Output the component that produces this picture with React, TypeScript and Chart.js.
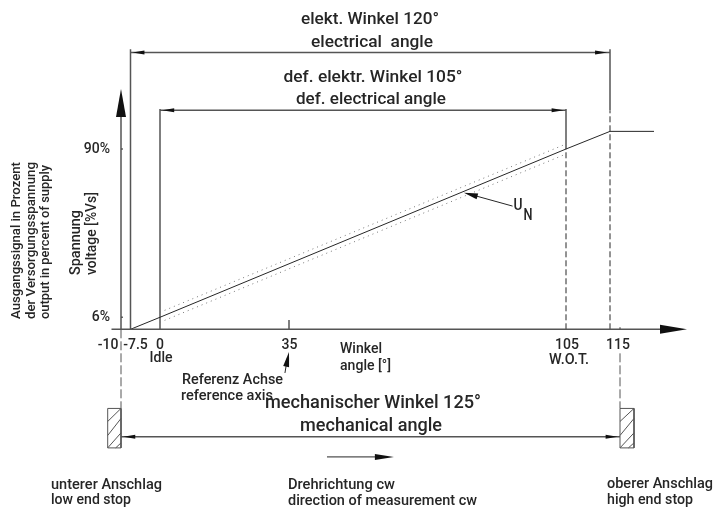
import React, { useEffect, useRef } from "react";
import { Chart, LinearScale, registerables } from "chart.js";

// Curve: output in % of supply against angle in degrees
const curveAngle = [-7.5, 0, 105, 112.5, 123.5];
const curveOutput = [0, 6, 90, 98.8, 98.8];
const toleranceAngle = [0, 105];
const upperTolerance = [8.5, 92.5];
const lowerTolerance = [3.5, 87.5];

// Axis ticks
const xTicks = [-10, -7.5, 0, 35, 105, 115];
const yTicks = [6, 90];

// The drawing is not to scale: angle -> pixel anchors
const xAnchors: number[][] = [[-10, 121], [-7.5, 130.5], [0, 160], [35, 289], [105, 566], [112.5, 610], [115, 620]];
const yAnchors: number[][] = [[0, 329.3], [90, 149]];
const labelShifts: Record<string, Record<number, number[]>> = {
  x: { [-10]: [-13, 0], [-7.5]: [5, 0], 0: [0, 0], 35: [0.5, 0], 105: [1, 0], 115: [-2, 0] },
  y: { 6: [-11, 0], 90: [-11, 0] },
};

class AnchoredScale extends LinearScale {
  static id = "anchored";
  static defaults = LinearScale.defaults;
  getPixelForValue(value: number) {
    const a = this.axis === "x" ? xAnchors : yAnchors;
    let i = 0;
    while (i < a.length - 2 && value > a[i + 1][0]) i++;
    const [v0, p0] = a[i];
    const [v1, p1] = a[i + 1];
    return p0 + ((value - v0) * (p1 - p0)) / (v1 - v0);
  }
  _computeLabelItems(area: any) {
    const items = (LinearScale.prototype as any)._computeLabelItems.call(this, area);
    items.forEach((item: any, i: number) => {
      const s = labelShifts[this.axis][this.ticks[i].value] || [0, 0];
      const t = item.options.translation;
      item.options.translation = [t[0] + s[0], t[1] + s[1]];
    });
    return items;
  }
}

Chart.register(...registerables, AnchoredScale as any);

const INK = "#262626";
const solid = { borderColor: INK, borderWidth: 1 };
const thick = { borderColor: "#555", borderWidth: 1.5 };
const dashed = { borderColor: INK, borderWidth: 1, borderDash: [6, 3] };
const longDash = { borderColor: "#555", borderWidth: 1, borderDash: [9, 3] };
const dotted = { borderColor: "#777", borderWidth: 1, borderDash: [1, 4] };

const line = (xs: number[], ys: number[], style: object) => ({
  data: xs.map((x, i) => ({ x, y: ys[i] })),
  showLine: true,
  pointRadius: 0,
  clip: false,
  fill: false,
  tension: 0,
  ...style,
});

const electricalY = 138.2;
const definedY = 109.3;
const mechanicalY = -53.6;
const stopTop = -39.5;
const stopBottom = -59.2;
const stopLeftOuter = -13.5;
const stopRightOuter = 118.5;
const hatch = [
  [-13.5, -46, -10, -39.5],
  [-13.5, -53, -10, -44.5],
  [-13.5, -59.2, -10, -51.7],
  [-11.4, -59.2, -10, -56.7],
];

const datasets = [
  line([-12.5, 126], [0, 0], thick),
  line([-10, -10], [0, 106], thick),
  line(curveAngle, curveOutput, solid),
  line(toleranceAngle, upperTolerance, dotted),
  line(toleranceAngle, lowerTolerance, dotted),
  // extension lines
  line([-7.5, -7.5], [0, 139.8], thick),
  line([0, 0], [0, 110], thick),
  line([105, 105], [90, 110], thick),
  line([105, 105], [0, 90], dashed),
  line([112.5, 112.5], [109.3, 139.8], thick),
  line([112.5, 112.5], [0, 109.3], dashed),
  line([-10, -10], [0, stopTop], longDash),
  line([115, 115], [-12, stopTop], longDash),
  // dimension lines
  line([-7.5, 112.5], [electricalY, electricalY], thick),
  line([0, 105], [definedY, definedY], thick),
  line([-10, 115], [mechanicalY, mechanicalY], thick),
  // tick marks
  line([35, 35], [0, 4.6], thick),
  line([-10, -9.5], [6, 6], thick),
  line([-10, -9.5], [90, 90], thick),
  line([115, 115], [0, 1], solid),
  // direction of measurement, U_N leader, reference axis leader
  line([44.6, 58], [-63.7, -63.7], solid),
  line([91.5, 80], [61.5, 67.8], solid),
  line([33.9, 34.6], [-21.8, -14], solid),
  // end stops
  line([stopLeftOuter, -10, -10, stopLeftOuter, stopLeftOuter], [stopTop, stopTop, stopBottom, stopBottom, stopTop], { borderColor: "#555", borderWidth: 1 }),
  line([115, stopRightOuter, stopRightOuter, 115, 115], [stopTop, stopTop, stopBottom, stopBottom, stopTop], { borderColor: "#555", borderWidth: 1 }),
  ...hatch.map((h) => line([h[0], h[2]], [h[1], h[3]], { borderColor: "#555", borderWidth: 1 })),
  ...hatch.map((h) => line([h[0] + 128.5, h[2] + 128.5], [h[1], h[3]], { borderColor: "#555", borderWidth: 1 })),
];

// Arrowheads: tip and a point on the shaft, in data units; then length and half-width
const arrows: number[][] = [
  [-10, 119.9, -10, 0, 28, 5],
  [131.75, 0, 0, 0, 27, 4.5],
  [-7, electricalY, 50, electricalY, 12, 2],
  [112, electricalY, 50, electricalY, 12, 2],
  [0.6, definedY, 50, definedY, 12, 2],
  [104.4, definedY, 50, definedY, 12, 2],
  [-9.4, mechanicalY, 50, mechanicalY, 12, 2],
  [114.4, mechanicalY, 50, mechanicalY, 12, 2],
  [61.5, -63.7, 44.6, -63.7, 19, 3],
  [79.2, 68.2, 91.5, 61.5, 14, 3],
  [35, -11.3, 33.9, -21.8, 15, 3],
];

// text, x, y, align, font size, target width, rotated
type Note = [string, number, number, CanvasTextAlign, number, number, boolean?];
const notes: Note[] = [
  ["elekt. Winkel 120°", 370, 20, "center", 17, 138],
  ["electrical  angle", 372, 43, "center", 17, 122],
  ["def. elektr. Winkel 105°", 373, 78, "center", 17, 179],
  ["def. electrical angle", 371, 100, "center", 17, 150],
  ["Idle", 161, 358, "center", 14, 23],
  ["W.O.T.", 569, 360, "center", 14, 40],
  ["Winkel", 340, 349, "left", 14, 42],
  ["angle [°]", 340, 366, "left", 14, 51],
  ["Referenz Achse", 182, 380, "left", 14, 101],
  ["reference axis", 181, 396, "left", 14, 92],
  ["mechanischer Winkel 125°", 373, 403, "center", 19, 216],
  ["mechanical angle", 371, 426, "center", 19, 142],
  ["unterer Anschlag", 51, 485, "left", 14, 111],
  ["low end stop", 51, 500, "left", 14, 80],
  ["Drehrichtung cw", 288, 485, "left", 14, 107],
  ["direction of measurement cw", 288, 501, "left", 14, 189],
  ["oberer Anschlag", 607, 484, "left", 14, 106],
  ["high end stop", 607, 500, "left", 14, 86],
  ["U", 518, 206, "center", 16, 9],
  ["N", 528, 216, "center", 16, 9],
  ["Ausgangssignal in Prozent", 17, 319, "left", 13.5, 157, true],
  ["der Versorgungsspannung", 32, 319, "left", 13.5, 157, true],
  ["output in percent of supply", 46, 319, "left", 13.5, 154, true],
  ["Spannung", 76, 275, "left", 14, 65, true],
  ["voltage [%Vs]", 92, 275, "left", 14, 83, true],
];

const drawingPlugin = {
  id: "drawing",
  afterDatasetsDraw(chart: any) {
    const { ctx, scales } = chart;
    ctx.save();
    ctx.fillStyle = "#111";
    for (const [tx, ty, sx, sy, len, half] of arrows) {
      const px = scales.x.getPixelForValue(tx);
      const py = scales.y.getPixelForValue(ty);
      const qx = scales.x.getPixelForValue(sx);
      const qy = scales.y.getPixelForValue(sy);
      const d = Math.hypot(qx - px, qy - py) || 1;
      const ux = (qx - px) / d;
      const uy = (qy - py) / d;
      ctx.beginPath();
      ctx.moveTo(px, py);
      ctx.lineTo(px + ux * len - uy * half, py + uy * len + ux * half);
      ctx.lineTo(px + ux * len + uy * half, py + uy * len - ux * half);
      ctx.closePath();
      ctx.fill();
    }
    ctx.fillStyle = INK;
    ctx.textBaseline = "middle";
    for (const [text, x, y, align, size, width, rotated] of notes) {
      ctx.save();
      ctx.font = `500 ${size}px Roboto`;
      ctx.textAlign = align;
      ctx.translate(x, y);
      if (rotated) ctx.rotate(-Math.PI / 2);
      ctx.scale(width / ctx.measureText(text).width, 1);
      ctx.fillText(text, 0, 0);
      ctx.restore();
    }
    ctx.restore();
  },
};

export default function App() {
  const ref = useRef<HTMLCanvasElement>(null);
  useEffect(() => {
    const chart = new Chart(ref.current!, {
      type: "scatter",
      data: { datasets: datasets as any },
      plugins: [drawingPlugin],
      options: {
        animation: false,
        responsive: false,
        events: [],
        layout: { padding: 0 },
        plugins: { legend: { display: false }, tooltip: { enabled: false } },
        scales: {
          x: {
            type: "anchored" as any,
            position: { y: 0 } as any,
            min: -40,
            max: 140,
            afterBuildTicks: (axis: any) => {
              axis.ticks = xTicks.map((value) => ({ value }));
            },
            ticks: {
              autoSkip: false,
              maxRotation: 0,
              minRotation: 0,
              padding: 0,
              color: INK,
              font: { family: "Roboto", size: 14, weight: "500" },
              callback: (v: any) => String(v),
            },
            grid: { display: false },
            border: { display: false },
          },
          y: {
            type: "anchored" as any,
            position: { x: -10 } as any,
            min: -90,
            max: 160,
            afterBuildTicks: (axis: any) => {
              axis.ticks = yTicks.map((value) => ({ value }));
            },
            ticks: {
              autoSkip: false,
              color: INK,
              font: { family: "Roboto", size: 14, weight: "500" },
              callback: (v: any) => `${v}%`,
            },
            grid: { display: false },
            border: { display: false },
          },
        },
      } as any,
    });
    return () => chart.destroy();
  }, []);
  return (
    <div style={{ position: "absolute", left: 0, top: 0 }}>
      <canvas ref={ref} width={717} height={509} style={{ display: "block", filter: "blur(0.35px)" }} />
    </div>
  );
}
